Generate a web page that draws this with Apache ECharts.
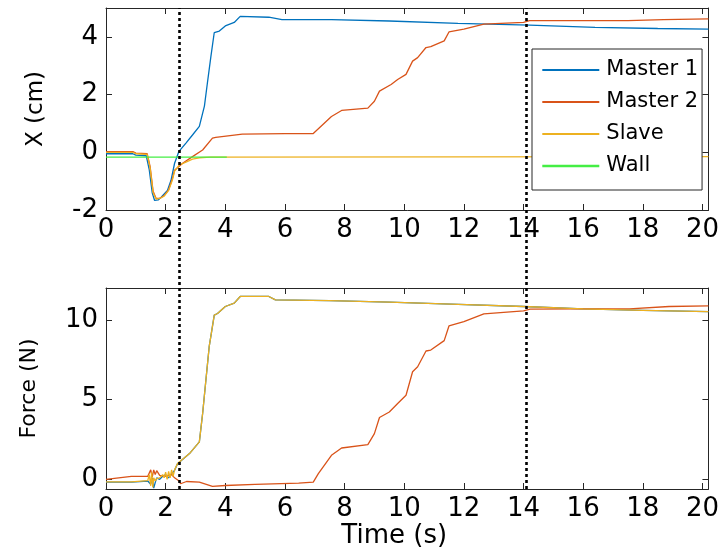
<!DOCTYPE html>
<html>
<head>
<meta charset="utf-8">
<script src="https://cdn.jsdelivr.net/npm/echarts@6/dist/echarts.min.js"></script>
<style>
  html, body { margin: 0; padding: 0; background: #fff; }
  #chart { width: 722px; height: 550px; }
</style>
</head>
<body>
<div id="chart"></div>
<script>
// ---- Position (cm) ----
const m1PosTime = [0, 0.9, 1.0, 1.35, 1.45, 1.55, 1.63, 1.75, 1.85, 2.06, 2.18, 2.3, 2.44, 2.68, 2.9, 3.13, 3.3, 3.4, 3.52, 3.63, 3.8, 4.0, 4.3, 4.5, 5.46, 5.9, 7.56, 9.5, 11.8, 14.2, 16.4, 18.5, 20.2];
const m1Pos     = [-0.05, -0.05, -0.1, -0.12, -0.6, -1.4, -1.67, -1.65, -1.56, -1.32, -0.97, -0.38, 0.02, 0.32, 0.6, 0.9, 1.6, 2.4, 3.34, 4.15, 4.2, 4.38, 4.5, 4.71, 4.68, 4.6, 4.6, 4.55, 4.47, 4.41, 4.33, 4.29, 4.27];

const m2PosTime = [0, 0.9, 1.0, 1.38, 1.48, 1.58, 1.68, 1.8, 1.95, 2.1, 2.23, 2.3, 2.57, 2.9, 3.24, 3.57, 3.68, 4.57, 6.0, 6.95, 7.56, 7.9, 8.78, 9.0, 9.17, 9.56, 9.78, 10.06, 10.28, 10.45, 10.73, 10.89, 11.34, 11.5, 12.0, 12.67, 14.0, 14.2, 17.5, 18.7, 20.2];
const m2Pos     = [0.02, 0.02, -0.03, -0.05, -0.5, -1.35, -1.6, -1.6, -1.5, -1.3, -0.9, -0.62, -0.38, -0.15, 0.08, 0.49, 0.52, 0.63, 0.65, 0.65, 1.24, 1.45, 1.53, 1.77, 2.12, 2.35, 2.52, 2.7, 3.16, 3.28, 3.63, 3.66, 3.86, 4.17, 4.27, 4.44, 4.5, 4.56, 4.56, 4.6, 4.62];

const slavePosTime = [0, 0.9, 1.0, 1.38, 1.48, 1.58, 1.68, 1.8, 1.95, 2.1, 2.23, 2.3, 2.46, 2.7, 2.9, 3.13, 3.5, 20.2];
const slavePos     = [0.0, 0.0, -0.05, -0.07, -0.55, -1.4, -1.62, -1.6, -1.52, -1.32, -0.95, -0.65, -0.44, -0.33, -0.24, -0.19, -0.17, -0.15];

const wallPosTime = [0, 4.05];
const wallPos     = [-0.17, -0.17];

// ---- Force (N) ----
const m1ForceTime = [0, 0.85, 0.9, 1.4, 1.5, 1.55, 1.6, 1.65, 1.7, 1.8, 1.9, 2.0, 2.1, 2.2, 2.3, 2.4, 2.8, 3.13, 3.24, 3.35, 3.46, 3.63, 3.74, 4.0, 4.3, 4.5, 5.46, 5.68, 7.5, 9.5, 11.56, 14.0, 16.0, 18.0, 20.2];
const m1Force     = [-0.17, -0.17, -0.06, -0.1, -0.3, 0.1, -0.55, -0.2, 0.1, 0.0, 0.2, 0.3, 0.1, 0.35, 0.57, 0.99, 1.62, 2.35, 4.13, 6.23, 8.32, 10.3, 10.4, 10.84, 11.05, 11.47, 11.47, 11.26, 11.21, 11.12, 10.99, 10.84, 10.69, 10.6, 10.52];

const slaveForceTime = [0, 0.85, 0.9, 1.4, 1.45, 1.5, 1.53, 1.57, 1.6, 1.65, 1.7, 1.8, 1.9, 1.95, 2.0, 2.05, 2.1, 2.15, 2.2, 2.25, 2.3, 2.4, 2.8, 3.13, 3.24, 3.35, 3.46, 3.63, 3.74, 4.0, 4.3, 4.5, 5.46, 5.68, 7.5, 9.5, 11.56, 14.0, 16.0, 18.0, 20.2];
const slaveForce     = [-0.15, -0.15, -0.05, -0.08, 0.3, -0.4, 0.45, -0.5, 0.1, -0.1, 0.05, 0.1, 0.3, 0.1, 0.45, 0.0, 0.5, 0.1, 0.6, 0.2, 0.6, 1.0, 1.62, 2.35, 4.13, 6.23, 8.32, 10.3, 10.4, 10.84, 11.05, 11.47, 11.47, 11.26, 11.21, 11.12, 10.99, 10.84, 10.69, 10.6, 10.52];

const m2ForceTime = [0, 0.85, 1.4, 1.5, 1.55, 1.6, 1.65, 1.7, 1.8, 2.0, 2.2, 2.3, 2.45, 2.5, 2.7, 3.13, 3.57, 4.0, 5.0, 6.46, 6.95, 7.12, 7.56, 7.9, 8.78, 9.0, 9.17, 9.5, 9.78, 10.06, 10.28, 10.45, 10.73, 10.89, 11.34, 11.5, 12.0, 12.67, 14.0, 14.22, 16.0, 17.55, 18.88, 20.2];
const m2Force     = [0.0, 0.19, 0.2, 0.6, 0.15, 0.6, 0.3, 0.55, 0.25, 0.2, 0.3, 0.1, -0.1, -0.27, -0.13, -0.17, -0.44, -0.38, -0.31, -0.23, -0.17, 0.36, 1.51, 1.97, 2.18, 2.87, 3.88, 4.23, 4.76, 5.28, 6.75, 7.06, 8.05, 8.11, 8.7, 9.62, 9.89, 10.38, 10.57, 10.67, 10.69, 10.69, 10.84, 10.88];

// ---- Event markers and ticks ----
const eventTimes = [2.45, 14.0];
const timeTicks  = [0, 2, 4, 6, 8, 10, 12, 14, 16, 18, 20];
const posTicks   = [-2, 0, 2, 4];
const forceTicks = [0, 5, 10];

const FONT = 'DejaVu Sans';
const AXIS_COLOR = '#262626';
const COLORS = { m1: '#0072BD', m2: '#D95319', slave: '#EDB120', wall: '#44EE44' };

const pairs = (t, v) => t.map((x, i) => [x, v[i]]);

function timeAxis(gridIndex, position, showLabels, name) {
  return {
    type: 'value', gridIndex, position, min: 0, max: 20.2,
    name: name || '', nameLocation: 'middle', nameGap: 33,
    nameTextStyle: { fontFamily: FONT, fontSize: 26, color: '#000', padding: [0, 26, 0, 0] },
    axisLine: { show: true, onZero: false, lineStyle: { color: AXIS_COLOR, width: 1 } },
    axisTick: { show: true, inside: true, length: 6, customValues: timeTicks, lineStyle: { color: AXIS_COLOR } },
    axisLabel: { show: showLabels, customValues: timeTicks, margin: 7, fontFamily: FONT, fontSize: 26, color: '#000' },
    splitLine: { show: false }
  };
}

function valueAxis(gridIndex, position, min, max, ticks, showLabels, name, nameSize, nameGap) {
  return {
    type: 'value', gridIndex, position, min, max,
    name: name || '', nameLocation: 'middle', nameGap: nameGap || 0,
    nameTextStyle: { fontFamily: FONT, fontSize: nameSize || 22, color: '#000' },
    axisLine: { show: true, onZero: false, lineStyle: { color: AXIS_COLOR, width: 1 } },
    axisTick: { show: true, inside: true, length: 6, customValues: ticks, lineStyle: { color: AXIS_COLOR } },
    axisLabel: { show: showLabels, customValues: ticks, margin: 8, fontFamily: FONT, fontSize: 26, color: '#000' },
    splitLine: { show: false }
  };
}

function line(name, color, xi, yi, data, width, z) {
  return {
    name, type: 'line', xAxisIndex: xi, yAxisIndex: yi, data,
    symbol: 'none', showSymbol: false, color, z: z || 2,
    lineStyle: { color, width: width || 1.3 }, silent: true
  };
}

const chart = echarts.init(document.getElementById('chart'), null, { renderer: 'canvas' });
chart.setOption({
  animation: false,
  backgroundColor: '#fff',
  grid: [
    { left: 106, right: 9, top: 8, height: 202 },
    { left: 106, right: 9, top: 288, height: 201 },
    { left: 106, right: 9, top: 8, height: 481 }
  ],
  xAxis: [
    timeAxis(0, 'bottom', true),
    timeAxis(0, 'top', false),
    timeAxis(1, 'bottom', true, 'Time (s)'),
    timeAxis(1, 'top', false),
    { type: 'value', gridIndex: 2, min: 0, max: 20.2, show: false }
  ],
  yAxis: [
    valueAxis(0, 'left', -2, 5, posTicks, true, 'X (cm)', 23, 58),
    valueAxis(0, 'right', -2, 5, posTicks, false),
    valueAxis(1, 'left', -0.6, 12, forceTicks, true, 'Force (N)', 22, 66),
    valueAxis(1, 'right', -0.6, 12, forceTicks, false),
    { type: 'value', gridIndex: 2, min: 0, max: 1, show: false }
  ],
  legend: {
    orient: 'vertical', left: 532, top: 49,
    backgroundColor: '#fff', borderColor: AXIS_COLOR, borderWidth: 1,
    padding: [9, 4, 12, 9], itemGap: 8, itemWidth: 57, itemHeight: 14,
    itemStyle: { opacity: 0 },
    textStyle: { fontFamily: FONT, fontSize: 21, color: '#000', lineHeight: 24, padding: [0, 0, 0, 2] },
    data: [
      { name: 'Master 1' },
      { name: 'Master 2' },
      { name: 'Slave' },
      { name: 'Wall', lineStyle: { width: 2.6 } }
    ],
    z: 10
  },
  series: [
    line('Master 1', COLORS.m1, 0, 0, pairs(m1PosTime, m1Pos)),
    line('Master 2', COLORS.m2, 0, 0, pairs(m2PosTime, m2Pos)),
    line('Slave', COLORS.slave, 0, 0, pairs(slavePosTime, slavePos)),
    line('Wall', COLORS.wall, 0, 0, pairs(wallPosTime, wallPos)),
    line('Master 1', COLORS.m1, 2, 2, pairs(m1ForceTime, m1Force)),
    line('Master 2', COLORS.m2, 2, 2, pairs(m2ForceTime, m2Force)),
    line('Slave', COLORS.slave, 2, 2, pairs(slaveForceTime, slaveForce)),
    {
      type: 'line', xAxisIndex: 4, yAxisIndex: 4, data: [], silent: true, z: 5,
      markLine: {
        silent: true, symbol: 'none', animation: false,
        label: { show: false },
        lineStyle: { color: '#000', width: 2.6, type: [3, 3] },
        data: eventTimes.map(t => ({ xAxis: t }))
      }
    }
  ]
});
</script>
</body>
</html>
